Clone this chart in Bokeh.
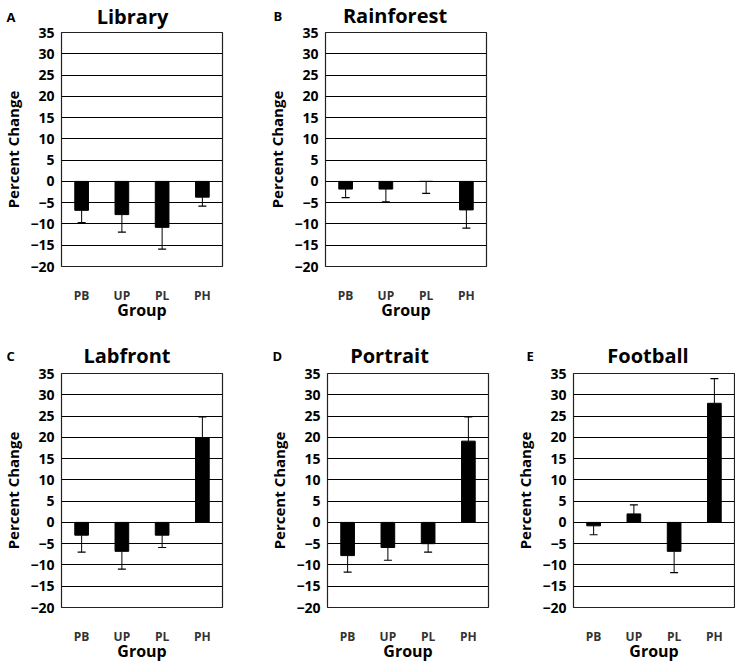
from bokeh.plotting import figure
from bokeh.models import Range1d, FactorRange, FixedTicker, Label
from bokeh.layouts import row, column
from bokeh.embed import file_html
from bokeh.resources import INLINE

groups = ["PB", "UP", "PL", "PH"]
y_ticks = [-20, -15, -10, -5, 0, 5, 10, 15, 20, 25, 30, 35]

library_mean = [-6.8, -7.8, -10.8, -3.7]
library_err = [2.9, 4.1, 5.1, 2.1]
rainforest_mean = [-1.8, -1.8, 0.0, -6.7]
rainforest_err = [2.0, 3.0, 2.8, 4.3]
labfront_mean = [-3.0, -6.8, -3.0, 19.9]
labfront_err = [4.0, 4.2, 2.9, 4.9]
portrait_mean = [-7.8, -5.9, -5.0, 19.1]
portrait_err = [3.9, 3.0, 2.0, 5.7]
football_mean = [-0.8, 2.0, -6.8, 28.0]
football_err = [2.1, 2.1, 5.0, 5.8]

FONT = "Open Sans"
FW, FH = 161, 234


def panel(letter, title, means, errs, left, right, top, bottom,
          title_x, letter_x, base_y, letter_side):
    p = figure(x_range=FactorRange(*groups), y_range=Range1d(-20, 35),
               frame_width=FW, frame_height=FH,
               min_border_left=left, min_border_right=right,
               min_border_top=top, min_border_bottom=bottom,
               toolbar_location=None, output_backend="svg")
    p.background_fill_color = "white"
    p.border_fill_color = "white"
    p.outline_line_color = "#222222"
    p.outline_line_width = 1.2

    p.xgrid.visible = False
    p.ygrid.ticker = FixedTicker(ticks=y_ticks)
    p.ygrid.grid_line_color = "black"
    p.ygrid.grid_line_width = 1
    p.ygrid.grid_line_alpha = 1.0

    p.yaxis.ticker = FixedTicker(ticks=y_ticks)
    for ax in (p.xaxis, p.yaxis):
        ax.axis_line_color = None
        ax.major_tick_line_color = None
        ax.minor_tick_line_color = None
        ax.major_tick_in = 0
        ax.major_tick_out = 0
        ax.minor_tick_in = 0
        ax.minor_tick_out = 0
        ax.major_label_text_font = FONT
        ax.major_label_text_font_style = "bold"
        ax.axis_label_text_font = FONT
        ax.axis_label_text_font_style = "bold"
        ax.axis_label_text_color = "black"

    p.yaxis.axis_label = "Percent Change"
    p.yaxis.axis_label_text_font_size = "15px"
    p.yaxis.major_label_text_font_size = "14px"
    p.yaxis.major_label_text_color = "black"
    p.yaxis.major_label_standoff = 7
    p.yaxis.axis_label_standoff = 4

    p.xaxis.axis_label = "Group"
    p.xaxis.axis_label_text_font_size = "16px"
    p.xaxis.major_label_text_font_size = "12px"
    p.xaxis.major_label_text_color = "#333333"
    p.xaxis.major_label_standoff = 20
    p.xaxis.axis_label_standoff = -8

    ends = [m + e if m > 0 else m - e for m, e in zip(means, errs)]

    p.vbar(x=groups, top=means, bottom=0, width=0.34,
           fill_color="black", line_color="black")
    p.segment(x0=groups, y0=means, x1=groups, y1=ends,
              line_color="black", line_width=1)
    p.scatter(x=groups, y=ends, marker="dash", size=8,
              line_color="black", line_width=1.2)

    p.add_layout(Label(x=letter_x, y=base_y, x_units="canvas", y_units="canvas",
                       text=letter, text_font=FONT, text_font_style="bold",
                       text_font_size="13px", text_align="left",
                       text_baseline="alphabetic", text_color="black"), letter_side)
    p.add_layout(Label(x=title_x, y=base_y, x_units="canvas", y_units="canvas",
                       text=title, text_font=FONT, text_font_style="bold",
                       text_font_size="20px", text_align="center",
                       text_baseline="alphabetic", text_color="black"), "above")
    return p


pa = panel("A", "Library", library_mean, library_err, 54, 33, 32, 70, 132, 6, 16, "right")
pb = panel("B", "Rainforest", rainforest_mean, rainforest_err, 64, 10, 32, 70, 139.5, 18, 15, "left")
pc = panel("C", "Labfront", labfront_mean, labfront_err, 54, 33, 37, 50, 126.5, 6, 19, "right")
pd_ = panel("D", "Portrait", portrait_mean, portrait_err, 72, 10, 37, 50, 134, 17, 19, "left")
pe = panel("E", "Football", football_mean, football_err, 75, 1, 37, 50, 149.5, 28, 19, "left")

layout = column(row(pa, pb), row(pc, pd_, pe))

open("out.html", "w").write(file_html(layout, INLINE))
